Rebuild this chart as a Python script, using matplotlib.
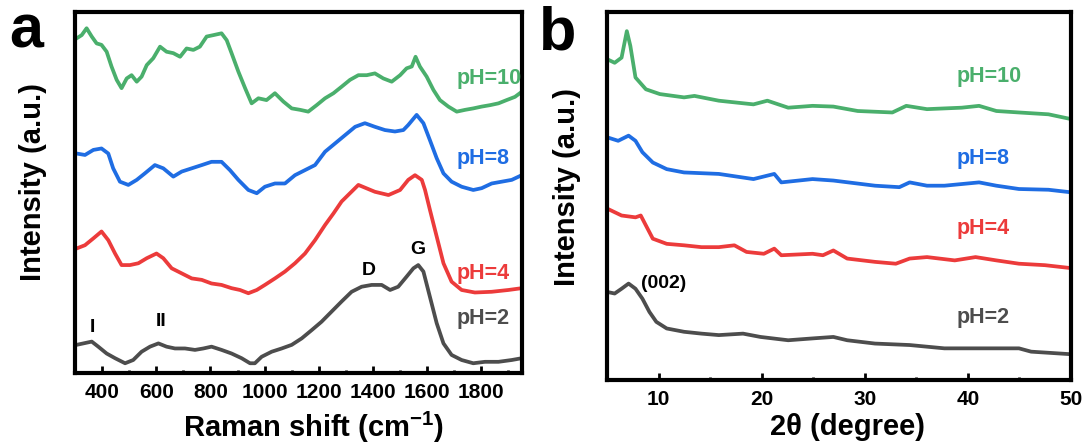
import matplotlib
matplotlib.use("Agg")
import matplotlib.pyplot as plt
from matplotlib.ticker import MultipleLocator

plt.rcParams.update({
    'font.family': ['Liberation Sans', 'DejaVu Sans'],
    'font.weight': 'bold',
    'mathtext.fontset': 'custom',
    'mathtext.rm': 'Liberation Sans:bold',
    'mathtext.default': 'rm',
})

# ---- panel a: Raman spectra (arbitrary units) ----
raman_x_ph2 = [306, 331, 362, 386, 417, 448, 485, 515, 546, 577, 608, 638, 669, 706,
               743, 774, 804, 841, 878, 915, 946, 964, 989, 1026, 1063, 1100, 1137,
               1174, 1210, 1247, 1284, 1321, 1358, 1395, 1432, 1463, 1493, 1524, 1549,
               1567, 1586, 1610, 1635, 1660, 1690, 1727, 1770, 1813, 1863, 1912, 1949]
raman_ph2 = [7.8, 8.2, 8.7, 7.3, 5.4, 4.1, 2.7, 3.6, 5.9, 7.3, 8.2, 7.3, 6.8, 6.8,
             6.4, 6.8, 7.3, 6.4, 5.4, 4.1, 2.7, 2.7, 4.5, 5.9, 6.8, 7.8, 9.6,
             11.9, 14.2, 17.0, 19.8, 22.5, 23.9, 24.4, 24.4, 23.0, 23.9, 26.7, 29.0,
             29.9, 28.1, 21.1, 13.8, 8.2, 5.0, 3.6, 2.7, 3.1, 3.1, 3.6, 4.1]

raman_x_ph4 = [306, 337, 368, 398, 423, 448, 472, 503, 534, 565, 601, 626, 657, 694,
               731, 768, 804, 841, 878, 909, 940, 971, 1001, 1038, 1075, 1112, 1149,
               1186, 1223, 1254, 1284, 1315, 1346, 1407, 1457, 1500, 1530, 1555, 1580,
               1592, 1610, 1635, 1660, 1690, 1727, 1776, 1838, 1900, 1949]
raman_ph4 = [34.5, 35.4, 37.3, 39.2, 36.8, 33.1, 29.9, 29.9, 30.4, 31.8, 33.1, 31.8,
             29.0, 27.6, 26.2, 25.8, 24.8, 24.4, 23.5, 23.0, 22.1, 23.0, 24.4, 26.2,
             28.1, 30.4, 33.1, 36.8, 41.0, 44.2, 47.5, 49.8, 52.1, 50.2, 49.3, 50.7,
             53.5, 54.8, 53.5, 50.7, 45.2, 37.8, 30.4, 25.3, 23.0, 22.3, 22.5, 23.0, 23.5]

raman_x_ph8 = [306, 337, 368, 398, 423, 441, 466, 497, 528, 558, 595, 626, 663, 694,
               731, 768, 804, 841, 872, 903, 940, 971, 1001, 1038, 1075, 1112, 1149,
               1186, 1223, 1260, 1297, 1334, 1370, 1407, 1444, 1481, 1512, 1530, 1561,
               1586, 1610, 1635, 1660, 1690, 1727, 1770, 1801, 1838, 1875, 1912, 1949]
raman_ph8 = [60.8, 60.4, 61.8, 62.2, 60.8, 56.7, 53.0, 52.1, 53.5, 55.3, 57.6, 56.7,
             54.4, 55.8, 56.7, 57.6, 58.5, 58.5, 56.2, 53.5, 50.7, 49.8, 51.6, 52.5,
             52.5, 54.8, 56.2, 57.6, 61.3, 63.6, 65.9, 68.2, 69.2, 68.2, 67.3, 66.9,
             67.3, 68.7, 71.5, 69.2, 64.5, 59.5, 55.3, 53.0, 51.6, 50.7, 51.2, 52.5,
             53.0, 53.5, 54.8]

raman_x_ph10 = [306, 325, 343, 362, 380, 398, 417, 435, 454, 472, 491, 509, 528, 546,
                565, 589, 614, 638, 663, 688, 712, 737, 761, 786, 811, 841, 860, 878,
                903, 928, 952, 977, 1007, 1038, 1069, 1100, 1131, 1161, 1192, 1223,
                1254, 1284, 1315, 1346, 1377, 1407, 1438, 1469, 1500, 1524, 1543, 1557,
                1573, 1598, 1623, 1647, 1678, 1709, 1740, 1770, 1801, 1832, 1863, 1893,
                1924, 1949]
raman_ph10 = [92.7, 93.6, 95.5, 93.2, 91.3, 90.9, 89.0, 84.9, 81.2, 78.9, 81.6, 82.5,
              80.7, 82.1, 85.3, 87.2, 90.4, 89.0, 88.6, 87.6, 89.9, 89.5, 90.4, 93.2,
              93.6, 94.1, 92.2, 88.6, 83.5, 78.9, 74.7, 76.1, 75.6, 77.5, 75.2, 73.3,
              72.9, 72.4, 74.2, 76.1, 77.5, 79.3, 81.2, 82.5, 82.5, 83.0, 81.6, 80.7,
              82.5, 84.4, 84.9, 87.6, 84.9, 82.1, 78.4, 75.6, 73.8, 72.4, 72.9, 73.3,
              73.8, 74.2, 74.7, 75.6, 76.5, 77.9]

# ---- panel b: XRD patterns ----
xrd_x_ph2 = [5.07, 5.74, 6.41, 7.09, 7.76, 8.43, 9.11, 9.78, 10.79, 12.47, 14.16, 15.84,
             18.19, 19.88, 22.57, 24.93, 26.95, 28.29, 30.99, 34.35, 37.72, 41.08,
             44.95, 46.13, 50.0]
xrd_ph2 = [23.9, 23.5, 24.8, 26.2, 24.8, 22.1, 18.5, 15.8, 14.0, 13.1, 12.6, 12.2,
           12.6, 11.7, 10.8, 11.3, 11.7, 10.8, 9.9, 9.5, 8.6, 8.6, 8.6, 7.7, 7.0]

xrd_x_ph4 = [5.07, 6.41, 7.76, 8.27, 8.77, 9.44, 10.79, 12.47, 14.16, 15.84, 17.35,
             18.53, 20.21, 21.22, 21.90, 24.93, 25.94, 26.95, 28.29, 30.99, 33.01,
             34.35, 36.03, 38.72, 40.74, 42.76, 44.95, 47.47, 50.0]
xrd_ph4 = [46.5, 44.7, 44.2, 44.7, 42.0, 38.4, 37.0, 36.6, 36.1, 36.1, 36.6, 34.8, 34.3,
           35.7, 33.9, 34.3, 33.9, 35.2, 33.0, 32.1, 31.6, 33.0, 33.4, 32.5, 33.4, 32.5,
           31.6, 31.2, 30.4]

xrd_x_ph8 = [5.07, 6.08, 7.09, 7.76, 8.43, 9.44, 10.79, 12.47, 15.84, 19.20, 21.22,
             21.90, 24.93, 26.95, 30.99, 33.35, 34.35, 36.03, 37.72, 41.08, 42.76,
             44.95, 47.81, 50.0]
xrd_ph8 = [65.9, 65.0, 66.4, 65.0, 61.9, 59.1, 57.3, 56.4, 56.0, 54.6, 56.0, 53.7, 54.6,
           54.2, 52.8, 52.4, 53.7, 52.8, 52.8, 53.7, 52.8, 51.9, 51.7, 51.0]

xrd_x_ph10 = [5.07, 5.74, 6.41, 6.92, 7.26, 7.76, 8.77, 10.12, 12.47, 13.48, 15.84,
              19.20, 20.55, 22.57, 24.93, 26.95, 29.31, 32.67, 34.02, 36.03, 39.40,
              41.08, 42.76, 44.95, 47.81, 50.0]
xrd_ph10 = [87.1, 86.2, 87.6, 94.8, 90.8, 82.2, 79.0, 77.7, 76.8, 77.2, 75.9, 74.9, 75.9,
            74.0, 74.5, 74.3, 73.1, 72.7, 74.5, 73.6, 74.0, 74.5, 73.1, 72.7, 72.2, 70.9]

labels = ['pH=2', 'pH=4', 'pH=8', 'pH=10']
colors = ['#4d4d4d', '#ec3b3b', '#1f6de3', '#4aaf6c']

raman_label_y = [15.1, 27.6, 59.5, 81.6]
xrd_label_y = [16.9, 41.1, 60.2, 82.6]

fig = plt.figure(figsize=(10.91, 4.48), dpi=100)
ax_a = fig.add_axes([0.0687, 0.1674, 0.4098, 0.8058])
ax_b = fig.add_axes([0.5564, 0.1518, 0.4253, 0.8214])

raman = [(raman_x_ph2, raman_ph2), (raman_x_ph4, raman_ph4),
         (raman_x_ph8, raman_ph8), (raman_x_ph10, raman_ph10)]
xrd = [(xrd_x_ph2, xrd_ph2), (xrd_x_ph4, xrd_ph4),
       (xrd_x_ph8, xrd_ph8), (xrd_x_ph10, xrd_ph10)]

for (x, y), c in zip(raman, colors):
    ax_a.plot(x, y, color=c, lw=2.7, solid_joinstyle='round')
for (x, y), c in zip(xrd, colors):
    ax_b.plot(x, y, color=c, lw=2.7, solid_joinstyle='round')

for lab, c, ly in zip(labels, colors, raman_label_y):
    ax_a.text(1709, ly, lab, color=c, fontsize=15.5, fontweight='bold', va='center', ha='left')
for lab, c, ly in zip(labels, colors, xrd_label_y):
    ax_b.text(38.9, ly, lab, color=c, fontsize=15.5, fontweight='bold', va='center', ha='left')

# peak annotations
ax_a.text(364, 12.7, 'I', fontsize=14, fontweight='bold', ha='center', va='center')
ax_a.text(617, 14.2, 'II', fontsize=14, fontweight='bold', ha='center', va='center')
ax_a.text(1385, 28.5, 'D', fontsize=14, fontweight='bold', ha='center', va='center')
ax_a.text(1567, 34.1, 'G', fontsize=14, fontweight='bold', ha='center', va='center')
ax_b.text(10.5, 26.2, '(002)', fontsize=14, fontweight='bold', ha='center', va='center')

ax_a.set_xlim(300, 1950)
ax_a.set_ylim(0, 100)
ax_a.xaxis.set_major_locator(MultipleLocator(200))
ax_a.xaxis.set_minor_locator(MultipleLocator(100))

ax_b.set_xlim(5, 50)
ax_b.set_ylim(0, 100)
ax_b.xaxis.set_major_locator(MultipleLocator(10))
ax_b.xaxis.set_minor_locator(MultipleLocator(5))

for ax in (ax_a, ax_b):
    ax.set_yticks([])
    ax.tick_params(axis='x', which='major', direction='in', length=5, width=2,
                   labelsize=15, pad=7)
    ax.tick_params(axis='x', which='minor', direction='in', length=2.5, width=2)
    for lbl in ax.get_xticklabels():
        lbl.set_fontweight('bold')
    for sp in ax.spines.values():
        sp.set_linewidth(3)

# axis titles placed in figure pixels to match the layout
W, H = 1091, 448
fig.text(314 / W, 1 - 427 / H, r'Raman shift (cm$^{-1}$)', fontsize=21,
         fontweight='bold', ha='center', va='center')
fig.text(847 / W, 1 - 427 / H, '2θ (degree)', fontsize=21,
         fontweight='bold', ha='center', va='center')
fig.text(33 / W, 1 - 182 / H, 'Intensity (a.u.)', fontsize=21, fontweight='bold',
         rotation=90, ha='center', va='center')
fig.text(567 / W, 1 - 187 / H, 'Intensity (a.u.)', fontsize=21, fontweight='bold',
         rotation=90, ha='center', va='center')
fig.text(26 / W, 1 - 47 / H, 'a', fontsize=44, fontweight='bold', ha='center',
         va='baseline')
fig.text(558 / W, 1 - 49 / H, 'b', fontsize=44, fontweight='bold', ha='center',
         va='baseline')

fig.savefig('out.png', dpi=100)
